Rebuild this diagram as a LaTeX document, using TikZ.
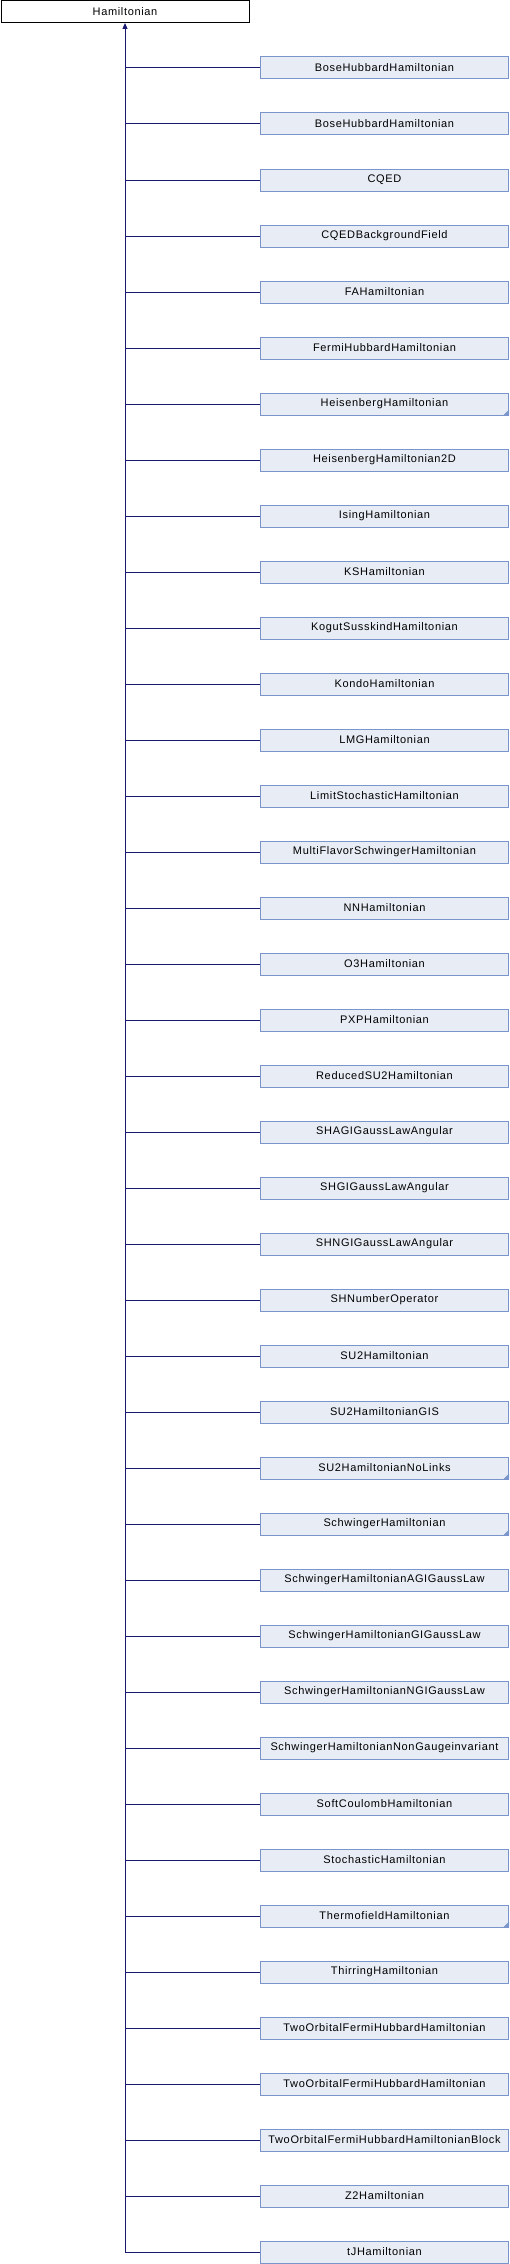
\documentclass[tikz,border=0pt]{standalone}
\usepackage{fontspec}
\setmainfont[LetterSpace=6]{Liberation Sans}
\usepackage{xcolor}
\usetikzlibrary{arrows.meta,positioning}

\definecolor{edgeblue}{HTML}{191970}
\definecolor{boxfill}{HTML}{E8ECF5}
\definecolor{boxline}{HTML}{7A94CC}

\begin{document}
\begin{tikzpicture}[x=1pt, y=-1pt, line width=1pt,
                base box/.style={draw=black, fill=white, minimum width=248pt, minimum height=22pt, inner sep=0pt,
                                 font=\fontsize{11}{13}\selectfont},
                child box/.style={draw=boxline, fill=boxfill, minimum width=248pt, minimum height=22pt, inner sep=0pt,
                                  font=\fontsize{11}{13}\selectfont},
                edge/.style={draw=edgeblue}]
  \useasboundingbox (0,0) rectangle (510,2264);

  \node[base box] (base) at (125,11.5) {Hamiltonian};

  \foreach \name/\fold [count=\i] in {BoseHubbardHamiltonian/0, BoseHubbardHamiltonian/0, CQED/0,
      CQEDBackgroundField/0, FAHamiltonian/0, FermiHubbardHamiltonian/0, HeisenbergHamiltonian/1,
      HeisenbergHamiltonian2D/0, IsingHamiltonian/0, KSHamiltonian/0, KogutSusskindHamiltonian/0,
      KondoHamiltonian/0, LMGHamiltonian/0, LimitStochasticHamiltonian/0,
      MultiFlavorSchwingerHamiltonian/0, NNHamiltonian/0, O3Hamiltonian/0, PXPHamiltonian/0,
      ReducedSU2Hamiltonian/0, SHAGIGaussLawAngular/0, SHGIGaussLawAngular/0,
      SHNGIGaussLawAngular/0, SHNumberOperator/0, SU2Hamiltonian/0, SU2HamiltonianGIS/0,
      SU2HamiltonianNoLinks/1, SchwingerHamiltonian/1, SchwingerHamiltonianAGIGaussLaw/0,
      SchwingerHamiltonianGIGaussLaw/0, SchwingerHamiltonianNGIGaussLaw/0,
      SchwingerHamiltonianNonGaugeinvariant/0, SoftCoulombHamiltonian/0,
      StochasticHamiltonian/0, ThermofieldHamiltonian/1, ThirringHamiltonian/0,
      TwoOrbitalFermiHubbardHamiltonian/0, TwoOrbitalFermiHubbardHamiltonian/0,
      TwoOrbitalFermiHubbardHamiltonianBlock/0, Z2Hamiltonian/0, tJHamiltonian/0} {
    \ifnum\i=1
      \node[child box] (c1) at (384.5,68) {\name};
    \else
      \pgfmathtruncatemacro\prev{\i-1}
      \node[child box, below=33pt of c\prev] (c\i) {\name};
    \fi
    % folded corner
    \ifnum\fold=1
      \fill[boxline] (c\i.south east) -- ++(-6pt,0pt) -- ++(6pt,6pt) -- cycle;
    \fi
    \draw[edge] (c\i.west) -- (c\i.west -| base.south);
  }

  \draw[edge, -{Triangle[width=5pt,length=6pt]}] (base.south |- c40.west) -- (base.south);
\end{tikzpicture}
\end{document}
